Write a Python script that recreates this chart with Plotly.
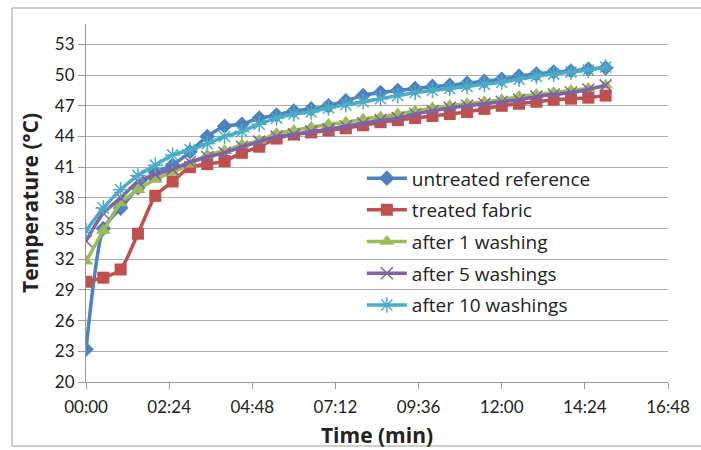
import plotly.graph_objects as go

times = ["00:00","00:30","01:00","01:30","02:00","02:30","03:00","03:30","04:00","04:30",
         "05:00","05:30","06:00","06:30","07:00","07:30","08:00","08:30","09:00","09:30",
         "10:00","10:30","11:00","11:30","12:00","12:30","13:00","13:30","14:00","14:30","15:00"]

untreated = [23.2, 35.0, 37.0, 39.0, 40.5, 41.2, 42.5, 44.0, 45.0, 45.2,
             45.8, 46.1, 46.5, 46.7, 47.0, 47.5, 48.0, 48.3, 48.5, 48.7,
             48.9, 49.0, 49.2, 49.4, 49.6, 49.9, 50.1, 50.3, 50.4, 50.6, 50.7]
treated = [29.8, 30.2, 31.0, 34.5, 38.2, 39.6, 41.0, 41.3, 41.6, 42.4,
           43.0, 43.8, 44.2, 44.4, 44.6, 44.8, 45.1, 45.4, 45.6, 45.8,
           46.0, 46.2, 46.4, 46.7, 47.0, 47.2, 47.4, 47.6, 47.7, 47.8, 48.0]
after1 = [31.8, 34.8, 37.5, 38.8, 39.8, 40.5, 41.3, 42.2, 42.6, 43.2,
          43.6, 44.3, 44.6, 44.9, 45.2, 45.4, 45.7, 45.9, 46.2, 46.5,
          46.8, 47.0, 47.2, 47.4, 47.6, 47.9, 48.1, 48.3, 48.5, 48.7, 49.0]
after5 = [33.8, 36.5, 38.0, 39.6, 40.3, 40.8, 41.5, 42.0, 42.4, 43.0,
          43.5, 44.0, 44.2, 44.5, 44.7, 45.0, 45.3, 45.6, 45.8, 46.2,
          46.5, 46.8, 47.0, 47.2, 47.4, 47.6, 47.9, 48.1, 48.3, 48.6, 49.0]
after10 = [34.8, 37.0, 38.8, 40.2, 41.2, 42.2, 42.7, 43.3, 44.0, 44.5,
           45.2, 45.8, 46.2, 46.4, 46.8, 47.1, 47.4, 47.7, 48.0, 48.3,
           48.5, 48.7, 48.9, 49.1, 49.3, 49.6, 49.9, 50.1, 50.3, 50.5, 50.8]

x_tick_labels = ["00:00","02:24","04:48","07:12","09:36","12:00","14:24","16:48"]
y_ticks = [20, 23, 26, 29, 32, 35, 38, 41, 44, 47, 50, 53]

def to_sec(s):
    m, sec = s.split(":")
    return int(m) * 60 + int(sec)

xs = [to_sec(t) for t in times]
xtickvals = [to_sec(t) for t in x_tick_labels]

FONT = "Lato, 'Open Sans', sans-serif"
WIDE = "'Open Sans', Lato, sans-serif"

series = [
    ("untreated reference", untreated, "#4F81BD", dict(symbol="diamond", size=12)),
    ("treated fabric", treated, "#C0504D", dict(symbol="square", size=12)),
    ("after 1 washing", after1, "#9BBB59", dict(symbol="triangle-up", size=13)),
    ("after 5 washings", after5, "#8064A2", dict(symbol="x-thin", size=12, line=dict(width=1.5, color="#8064A2"))),
    ("after 10 washings", after10, "#4BACC6", dict(symbol="asterisk", size=13, line=dict(width=1.5, color="#4BACC6"))),
]

fig = go.Figure()
for i, (name, ys, col, mk) in enumerate(series):
    fig.add_trace(go.Scatter(
        x=xs, y=ys, name=name, mode="lines+markers",
        line=dict(color=col, width=3.5, shape="spline", smoothing=0.6),
        marker=dict(color=col, **mk),
        legendgroup=f"g{i}",
    ))

fig.update_layout(
    width=701, height=450,
    margin=dict(l=86, r=33, t=24, b=68),
    paper_bgcolor="white", plot_bgcolor="white",
    font=dict(family=FONT, size=17, color="#222"),
    showlegend=True,
    legend=dict(x=0.474, y=0.622, xanchor="left", yanchor="top",
                bgcolor="rgba(0,0,0,0)", font=dict(family=WIDE, size=19, color="#222"),
                traceorder="grouped", tracegroupgap=4, itemwidth=40),
    xaxis=dict(range=[0, 1008], tickvals=xtickvals, ticktext=x_tick_labels,
               showgrid=False, showline=True, linecolor="#999", linewidth=1,
               ticks="outside", ticklen=6, tickcolor="#999",
               zeroline=False, ticklabelstandoff=4, automargin=False,
               title=dict(text="<b>Time (min)</b>", font=dict(family=WIDE, size=21), standoff=11)),
    yaxis=dict(range=[20, 55], tickvals=y_ticks,
               showgrid=True, gridcolor="#ADADAD", gridwidth=1,
               showline=True, linecolor="#999", linewidth=1,
               ticks="outside", ticklen=7, tickcolor="#999",
               zeroline=False, automargin=False,
               title=dict(text="<b>Temperature (°C)</b>", font=dict(family=WIDE, size=21), standoff=10)),
    shapes=[dict(type="rect", xref="paper", yref="paper",
                 x0=(12 - 86) / 582, x1=1.2, y0=(382 - 446) / 358, y1=(382 - 8) / 358,
                 line=dict(color="#999", width=1), fillcolor="rgba(0,0,0,0)", layer="below")],
)

fig.write_html("out.html")
